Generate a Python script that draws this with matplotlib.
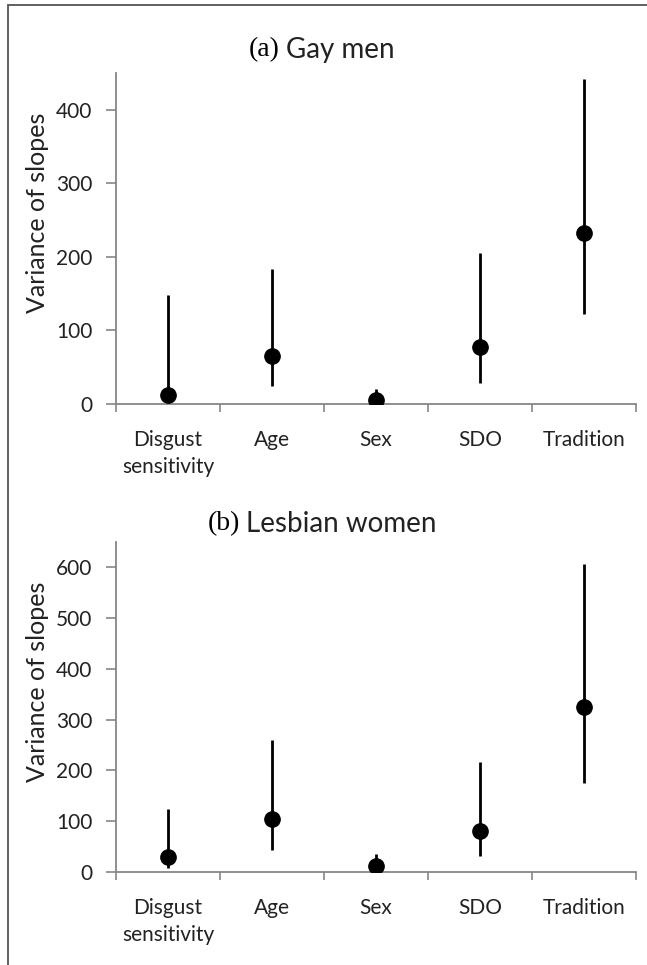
import matplotlib
matplotlib.use("Agg")
import matplotlib.pyplot as plt
from matplotlib.patches import Rectangle

# Data
categories = ["Disgust\nsensitivity", "Age", "Sex", "SDO", "Tradition"]

gay_est = [12, 65, 6, 77, 233]
gay_low = [3, 24, 0, 29, 123]
gay_high = [148, 183, 20, 205, 442]

les_est = [30, 104, 12, 81, 325]
les_low = [8, 43, 0, 32, 176]
les_high = [124, 260, 35, 217, 607]

panels = [
    ("(a)", "Gay men", gay_est, gay_low, gay_high, 450, [0, 100, 200, 300, 400]),
    ("(b)", "Lesbian women", les_est, les_low, les_high, 650, [0, 100, 200, 300, 400, 500, 600]),
]

W, H = 647, 965
fig = plt.figure(figsize=(W / 100, H / 100), dpi=100)

sans = "Lato"
text_col = "#222222"
axis_col = "#868686"

# outer frame
fig.patches.append(Rectangle((8 / W, -0.01), 1.0, 1 - 5 / H + 0.01, transform=fig.transFigure,
                             fill=False, edgecolor="#555555", linewidth=1.3))

ax_tops = [73, 542]
ax_bottoms = [404, 872]
title_y = [50, 524]
titles = []

for i, (tag, name, est, low, high, ymax, yt) in enumerate(panels):
    top, bot = ax_tops[i], ax_bottoms[i]
    ax = fig.add_axes([116 / W, 1 - bot / H, 520 / W, (bot - top) / H])
    x = range(len(categories))
    ax.vlines(x, low, high, color="black", linewidth=2.0, zorder=2)
    ax.plot(x, est, "o", color="black", markersize=11, zorder=3)

    ax.set_xlim(-0.5, len(categories) - 0.5)
    ax.set_ylim(0, ymax)
    ax.set_yticks(yt)
    ax.set_xticks(list(x))
    ax.set_xticklabels(categories, fontsize=15, family=sans, color=text_col, linespacing=1.4)
    ax.set_xticks([k - 0.5 for k in range(len(categories) + 1)], minor=True)
    ax.tick_params(axis="x", which="major", length=0, pad=19)
    ax.tick_params(axis="x", which="minor", length=6, width=1.2, color=axis_col, direction="out")
    ax.tick_params(axis="y", length=7, width=1.2, color=axis_col, pad=10, labelsize=15,
                   labelcolor=text_col)
    for lab in ax.get_yticklabels():
        lab.set_family(sans)

    for s in ["top", "right"]:
        ax.spines[s].set_visible(False)
    for s in ["left", "bottom"]:
        ax.spines[s].set_color(axis_col)
        ax.spines[s].set_linewidth(1.3)

    ax.set_ylabel("Variance of slopes", fontsize=18, family=sans, color=text_col)
    ax.yaxis.set_label_coords(-0.128, 1 - (213 - 73) / (404 - 73))

    # panel title: serif tag + sans name, centred together on the figure
    t1 = fig.text(0, 1 - title_y[i] / H, tag, ha="left", va="center", fontsize=20,
                  family="Liberation Serif", color="black")
    t2 = fig.text(0, 1 - title_y[i] / H, name, ha="left", va="center", fontsize=20,
                  family=sans, color=text_col)
    titles.append((t1, t2))

fig.canvas.draw()
r = fig.canvas.get_renderer()
gap = 6
for t1, t2 in titles:
    w1 = t1.get_window_extent(r).width
    w2 = t2.get_window_extent(r).width
    left = 322 - (w1 + gap + w2) / 2
    t1.set_x(left / W)
    t2.set_x((left + w1 + gap) / W)

fig.savefig("out.png", dpi=100)
